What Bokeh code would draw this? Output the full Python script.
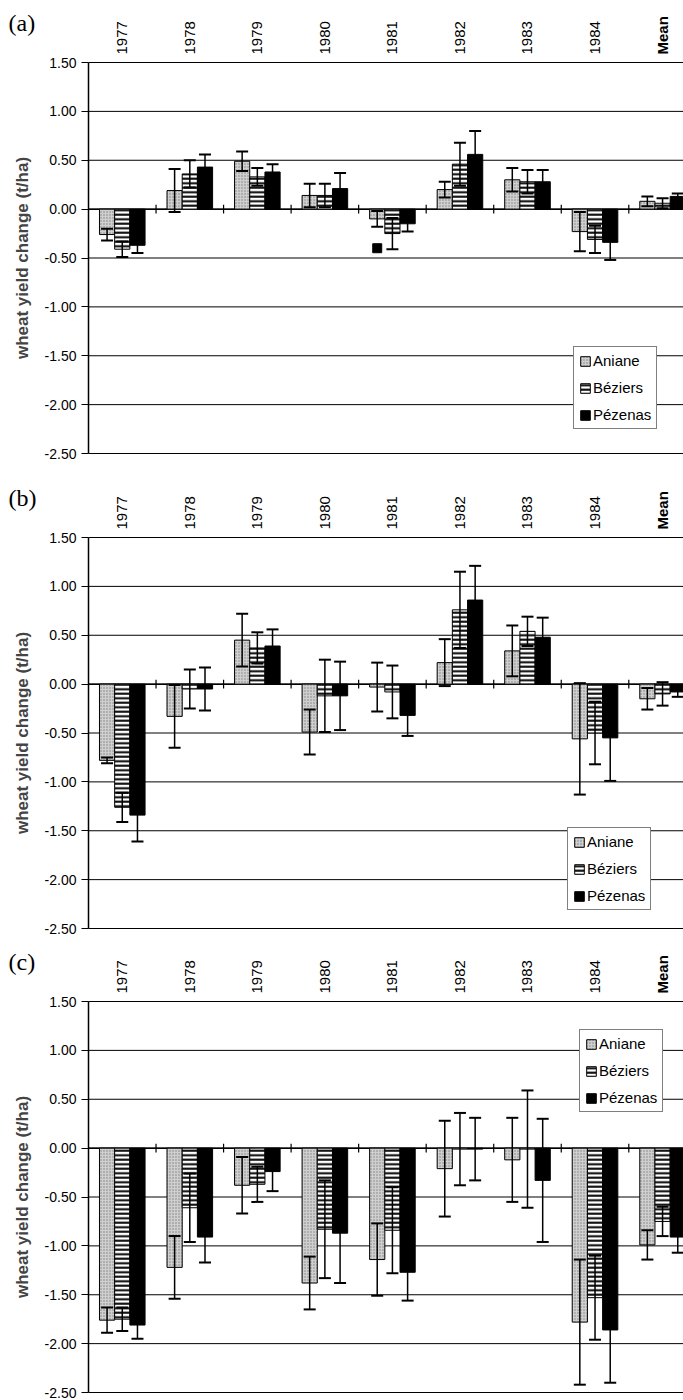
import numpy as np
from bokeh.plotting import figure
from bokeh.layouts import column
from bokeh.models import (ColumnDataSource, Whisker, TeeHead, Legend, LegendItem,
                          LinearAxis, FixedTicker, NumeralTickFormatter, Range1d)
from bokeh.core.properties import value
from bokeh.embed import file_html
from bokeh.resources import INLINE

groups = ["1977", "1978", "1979", "1980", "1981", "1982", "1983", "1984", "Mean"]
series = ["Aniane", "Béziers", "Pézenas"]
y_ticks = [-2.5, -2.0, -1.5, -1.0, -0.5, 0.0, 0.5, 1.0, 1.5]

# panel (a)
a_aniane = [-0.26, 0.19, 0.49, 0.14, -0.10, 0.20, 0.30, -0.23, 0.08]
a_aniane_err = [0.06, 0.22, 0.10, 0.12, 0.08, 0.08, 0.12, 0.20, 0.05]
a_beziers = [-0.41, 0.36, 0.33, 0.14, -0.25, 0.46, 0.28, -0.31, 0.06]
a_beziers_err = [0.08, 0.14, 0.09, 0.12, 0.16, 0.22, 0.12, 0.14, 0.05]
a_pezenas = [-0.37, 0.43, 0.38, 0.21, -0.15, 0.56, 0.28, -0.34, 0.13]
a_pezenas_err = [0.08, 0.13, 0.08, 0.16, 0.08, 0.24, 0.12, 0.18, 0.03]
a_stray_x = ["1981"]
a_stray_y = [-0.40]

# panel (b)
b_aniane = [-0.78, -0.33, 0.45, -0.49, -0.03, 0.22, 0.34, -0.56, -0.15]
b_aniane_err = [0.03, 0.32, 0.27, 0.23, 0.25, 0.24, 0.26, 0.57, 0.11]
b_beziers = [-1.26, -0.05, 0.37, -0.12, -0.08, 0.76, 0.54, -0.50, -0.10]
b_beziers_err = [0.15, 0.20, 0.16, 0.37, 0.27, 0.39, 0.15, 0.32, 0.12]
b_pezenas = [-1.34, -0.05, 0.39, -0.12, -0.32, 0.86, 0.48, -0.55, -0.08]
b_pezenas_err = [0.27, 0.22, 0.17, 0.35, 0.21, 0.35, 0.20, 0.44, 0.05]

# panel (c)
c_aniane = [-1.76, -1.22, -0.38, -1.38, -1.14, -0.21, -0.12, -1.78, -0.99]
c_aniane_err = [0.13, 0.32, 0.29, 0.27, 0.37, 0.49, 0.43, 0.64, 0.15]
c_beziers = [-1.75, -0.61, -0.37, -0.83, -0.84, -0.01, -0.01, -1.53, -0.75]
c_beziers_err = [0.12, 0.35, 0.18, 0.50, 0.44, 0.37, 0.60, 0.43, 0.15]
c_pezenas = [-1.81, -0.91, -0.24, -0.87, -1.27, -0.01, -0.33, -1.86, -0.91]
c_pezenas_err = [0.14, 0.26, 0.20, 0.51, 0.29, 0.32, 0.63, 0.54, 0.16]

FONT = "Liberation Sans"
W = 683
LEFT = 88            # px from canvas left to the value axis
FRAME_H = 391        # px between 1.50 and -2.50
X_END = 8.81         # visible category units right of the axis
PXG = (W - LEFT) / X_END
PXU = FRAME_H / 4.0
BAR_W = 0.225
LABEL_STYLE = ["normal"] * (len(groups) - 1) + ["bold"]

styles = [
    dict(fill_color="#cfcfcf", hatch_pattern="dot", hatch_color="#808080", hatch_scale=3, hatch_weight=1),
    dict(fill_color="white", hatch_pattern="horizontal_line", hatch_color="black", hatch_scale=4.5, hatch_weight=2),
    dict(fill_color="black"),
]


def make_panel(tag, vals, errs, height, top, legend_x, legend_y, stray=None):
    bottom = height - top - FRAME_H
    p = figure(width=W, height=height, output_backend="svg", toolbar_location=None,
               x_range=Range1d(-LEFT / PXG, X_END),
               y_range=Range1d(-2.5 - bottom / PXU, 1.5 + top / PXU),
               min_border=0, min_border_left=0, min_border_right=0,
               min_border_top=0, min_border_bottom=0,
               x_axis_location=None, y_axis_location=None)
    p.outline_line_color = None
    p.background_fill_color = "white"
    p.grid.visible = False

    # horizontal gridlines at the value ticks
    p.segment(x0=[0] * len(y_ticks), x1=[X_END] * len(y_ticks), y0=y_ticks, y1=y_ticks,
              line_color="black", line_width=1)

    ya = LinearAxis(fixed_location=0, bounds=(-2.5, 1.5), ticker=FixedTicker(ticks=y_ticks),
                    formatter=NumeralTickFormatter(format="0.00"))
    ya.major_label_text_font = FONT
    ya.major_label_text_font_size = "14px"
    ya.major_label_text_color = "black"
    ya.major_tick_out = 7
    ya.major_tick_in = 0
    ya.minor_tick_line_color = None
    ya.axis_line_width = 1.5
    ya.axis_line_color = "black"
    ya.major_tick_line_color = "black"
    ya.major_label_standoff = 5
    ya.axis_label = "wheat yield change (t/ha)"
    ya.axis_label_text_font = FONT
    ya.axis_label_text_font_style = "bold"
    ya.axis_label_text_font_size = "17px"
    ya.axis_label_standoff = 10
    p.add_layout(ya, "left")

    centers = np.arange(len(groups)) + 0.5
    # category labels above the plot, rotated
    p.text(x=centers, y=[1.5 + 8 / PXU] * len(groups), text=groups, angle=np.pi / 2,
           text_align="left", text_baseline="middle", text_font=value(FONT),
           text_font_size="15px", text_font_style=LABEL_STYLE, text_color="black")
    # panel tag
    p.text(x=[-80 / PXG], y=[1.5 + 40 / PXU], text=[tag], text_align="left",
           text_baseline="middle", text_font=value("Liberation Serif"),
           text_font_size="24px", text_color="black")

    # zero axis with crossing tick marks between categories
    p.line([0, X_END], [0, 0], line_color="black", line_width=1.5)
    bounds = np.arange(1, len(groups))
    p.segment(x0=bounds, y0=[-0.045] * len(bounds), x1=bounds, y1=[0.045] * len(bounds),
              line_color="black", line_width=1.2)

    items = []
    whiskers = []
    offsets = [-BAR_W, 0.0, BAR_W]
    for k in range(3):
        v = np.array(vals[k])
        e = np.array(errs[k])
        x = centers + offsets[k]
        src = ColumnDataSource(dict(x=x, top=v, up=v + e, lo=v - e))
        r = p.vbar(x="x", top="top", bottom=0, width=BAR_W, source=src,
                   line_color="black", line_width=1, **styles[k])
        items.append(LegendItem(label=series[k], renderers=[r]))
        w = Whisker(source=src, base="x", upper="up", lower="lo", line_color="black",
                    line_width=1.5, level="annotation",
                    upper_head=TeeHead(size=12, line_width=2, line_color="black"),
                    lower_head=TeeHead(size=12, line_width=2, line_color="black"))
        whiskers.append(w)
    for w in whiskers:
        p.add_layout(w)

    if stray is not None:
        sx = [groups.index(g) + 0.5 + offsets[0] for g in stray[0]]
        p.scatter(sx, stray[1], marker="square", size=9, color="black")

    leg = Legend(items=items, location=(LEFT + legend_x, bottom + legend_y))
    leg.label_text_font = FONT
    leg.label_text_font_size = "15px"
    leg.label_text_color = "black"
    leg.glyph_width = 12
    leg.glyph_height = 12
    leg.spacing = 10
    leg.padding = 5
    leg.margin = 0
    leg.label_standoff = 2
    leg.border_line_color = "black"
    leg.border_line_width = 1.2
    leg.background_fill_alpha = 1
    leg.background_fill_color = "white"
    p.add_layout(leg)
    return p


pa = make_panel("(a)", [a_aniane, a_beziers, a_pezenas], [a_aniane_err, a_beziers_err, a_pezenas_err],
                470, 62, 485, 24, stray=(a_stray_x, a_stray_y))
pb = make_panel("(b)", [b_aniane, b_beziers, b_pezenas], [b_aniane_err, b_beziers_err, b_pezenas_err],
                475, 67, 479, 18)
pc = make_panel("(c)", [c_aniane, c_beziers, c_pezenas], [c_aniane_err, c_beziers_err, c_pezenas_err],
                455, 56, 491, 280)

layout = column(pa, pb, pc, spacing=0)
open("out.html", "w").write(file_html(layout, INLINE))
